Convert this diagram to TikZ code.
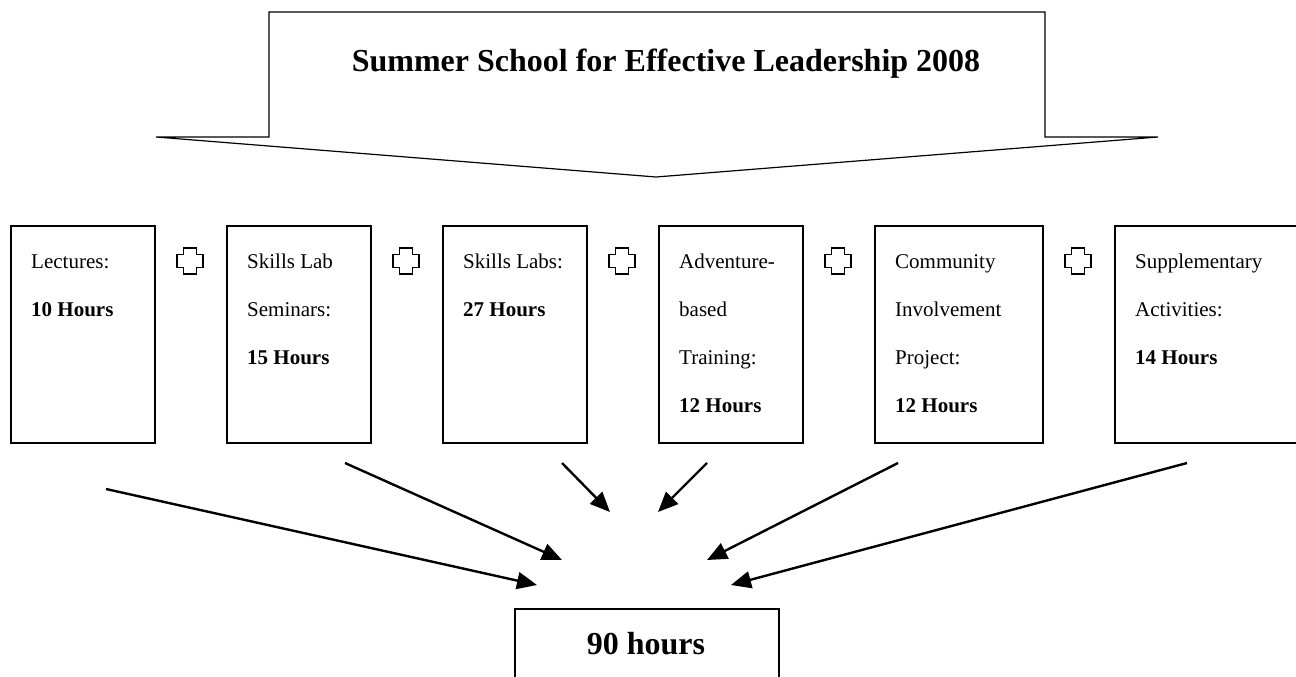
\documentclass[tikz,border=0pt]{standalone}
\usepackage{fontspec}
\setmainfont{Liberation Serif}
\usetikzlibrary{arrows.meta}
\begin{document}
\begin{tikzpicture}[x=1pt,y=-1pt,
  box/.style={draw, line width=1.8pt, inner sep=0pt, anchor=north west, minimum height=217pt},
  lbl/.style={inner sep=0pt, anchor=base west, font=\fontsize{21}{48}\selectfont},
  plussign/.style={line width=1.6pt},
  conn/.style={line width=2.4pt, -{Triangle[length=20pt,width=17pt]}},
  plussym/.pic={\draw[plussign] (-6.5,-13) -- (6.5,-13) -- (6.5,-6.5) -- (13,-6.5) -- (13,6.5) -- (6.5,6.5) -- (6.5,13) -- (-6.5,13) -- (-6.5,6.5) -- (-13,6.5) -- (-13,-6.5) -- (-6.5,-6.5) -- cycle;}
]
\useasboundingbox (0,0) rectangle (1296,677);
\fill[white] (0,0) rectangle (1296,677);
% banner arrow
\draw[line width=1.2pt, line join=miter] (156,137) -- (269,137) -- (269,12) -- (1045,12) -- (1045,137) -- (1158,137) -- (656,177) -- cycle;
\node[font=\fontsize{32}{38}\selectfont\bfseries, anchor=base, inner sep=0pt] (title) at (666,72) {Summer School for Effective Leadership 2008};
% boxes
\node[box, minimum width=144pt] (b1) at (10,225) {};
\node[box, minimum width=144pt] (b2) at (226,225) {};
\node[box, minimum width=144pt] (b3) at (442,225) {};
\node[box, minimum width=144pt] (b4) at (658,225) {};
\node[box, minimum width=168pt] (b5) at (874,225) {};
\node[box, minimum width=220pt] (b6) at (1114,225) {};
\node[lbl] (t1) at (31,268) {\vtop{\baselineskip=48pt\lineskiplimit=0pt\hbox{Lectures:}\hbox{\bfseries 10 Hours}}};
\node[lbl] (t2) at (247,268) {\vtop{\baselineskip=48pt\lineskiplimit=0pt\hbox{Skills Lab}\hbox{Seminars:}\hbox{\bfseries 15 Hours}}};
\node[lbl] (t3) at (463,268) {\vtop{\baselineskip=48pt\lineskiplimit=0pt\hbox{Skills Labs:}\hbox{\bfseries 27 Hours}}};
\node[lbl] (t4) at (679,268) {\vtop{\baselineskip=48pt\lineskiplimit=0pt\hbox{Adventure-}\hbox{based}\hbox{Training:}\hbox{\bfseries 12 Hours}}};
\node[lbl] (t5) at (895,268) {\vtop{\baselineskip=48pt\lineskiplimit=0pt\hbox{Community}\hbox{Involvement}\hbox{Project:}\hbox{\bfseries 12 Hours}}};
\node[lbl] (t6) at (1135,268) {\vtop{\baselineskip=48pt\lineskiplimit=0pt\hbox{Supplementary}\hbox{Activities:}\hbox{\bfseries 14 Hours}}};
% plus signs
\pic at (190,261) {plussym};
\pic at (406,261) {plussym};
\pic at (622,261) {plussym};
\pic at (838,261) {plussym};
\pic at (1078,261) {plussym};
% total box
\node[draw, line width=1.8pt, inner sep=0pt, anchor=north west, minimum width=264pt, minimum height=100pt] (tot) at (514,608) {};
\node[font=\fontsize{32}{38}\selectfont\bfseries, anchor=base, inner sep=0pt] (totl) at (646,654) {90 hours};
% arrows
\coordinate (s1) at (106,489); \coordinate (e1) at (537,585);
\coordinate (s2) at (345,463); \coordinate (e2) at (562,560);
\coordinate (s3) at (562,463); \coordinate (e3) at (610,512);
\coordinate (s4) at (707,463); \coordinate (e4) at (658,512);
\coordinate (s5) at (898,463); \coordinate (e5) at (707,560);
\coordinate (s6) at (1187,463); \coordinate (e6) at (731,585);
\foreach \i in {1,...,6} {\draw[conn] (s\i) -- (e\i);}
\end{tikzpicture}
\end{document}
